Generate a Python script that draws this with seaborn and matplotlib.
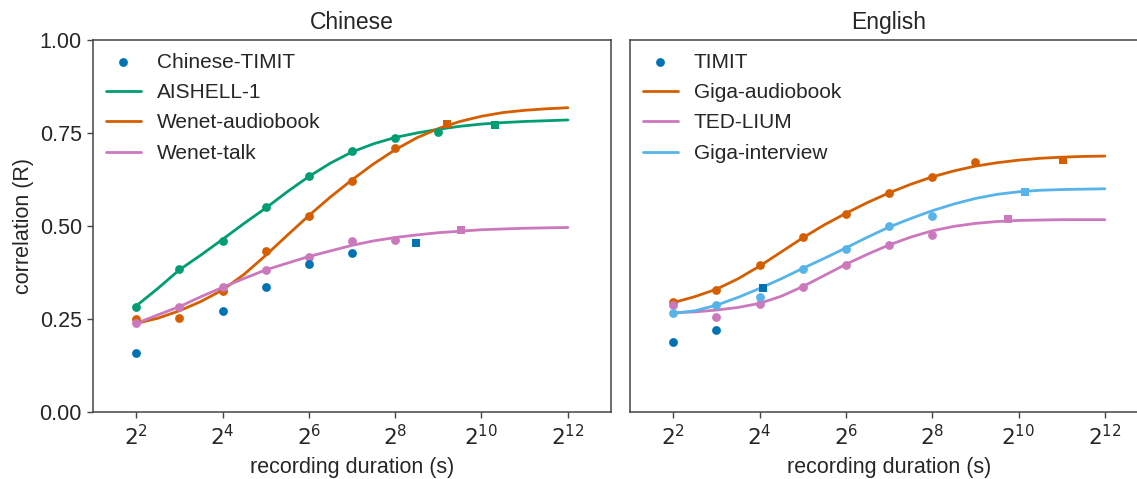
import numpy as np
import matplotlib
matplotlib.use("Agg")
import matplotlib.pyplot as plt
from matplotlib.ticker import FixedLocator, FuncFormatter
import seaborn as sns

sns.set_style("ticks")
plt.rcParams['font.family'] = ['Liberation Sans', 'DejaVu Sans']
plt.rcParams['axes.edgecolor'] = '#444444'
plt.rcParams['axes.linewidth'] = 1.1

pal = sns.color_palette("colorblind")
c_blue, c_green, c_red, c_pink, c_lblue = pal[0], pal[2], pal[3], pal[4], pal[9]

# ---- measured points (x as log2 of duration in s) ----
pt_exp = [2, 3, 4, 5, 6, 7, 8, 9]

# Chinese
ctimit_exp = [2, 4, 5, 6, 7]
ctimit_r = [0.159, 0.272, 0.337, 0.398, 0.428]
ctimit_full = (8.49, 0.454)
aishell_r = [0.283, 0.385, 0.460, 0.550, 0.634, 0.702, 0.737, 0.753]
aishell_full = (10.31, 0.771)
wbook_r = [0.249, 0.252, 0.324, 0.434, 0.527, 0.622, 0.710]
wbook_full = (9.21, 0.774)
wtalk_r = [0.238, 0.281, 0.335, 0.382, 0.418, 0.460, 0.463]
wtalk_full = (9.53, 0.488)

# English
timit_exp = [2, 3]
timit_r = [0.187, 0.220]
timit_full = (4.08, 0.334)
gbook_r = [0.297, 0.329, 0.394, 0.470, 0.532, 0.588, 0.631, 0.673]
gbook_full = (11.04, 0.677)
ted_r = [0.288, 0.256, 0.290, 0.337, 0.396, 0.448, 0.477]
ted_full = (9.75, 0.519)
ginter_r = [0.265, 0.288, 0.310, 0.385, 0.439, 0.501, 0.528]
ginter_full = (10.16, 0.592)

# ---- fitted curves, every half octave ----
curve_exp = [2, 2.5, 3, 3.5, 4, 4.5, 5, 5.5, 6, 6.5, 7,
             7.5, 8, 8.5, 9, 9.5, 10, 10.5, 11, 11.5, 12]
aishell_fit = [0.285, 0.332, 0.382, 0.422, 0.464, 0.507, 0.548, 0.592, 0.633, 0.669, 0.699,
               0.721, 0.738, 0.750, 0.760, 0.768, 0.774, 0.778, 0.781, 0.783, 0.785]
wbook_fit = [0.238, 0.252, 0.272, 0.297, 0.328, 0.370, 0.421, 0.475, 0.528, 0.578, 0.624,
             0.667, 0.705, 0.737, 0.762, 0.781, 0.795, 0.805, 0.811, 0.815, 0.818]
wtalk_fit = [0.238, 0.261, 0.283, 0.310, 0.335, 0.359, 0.382, 0.400, 0.418, 0.433, 0.448,
             0.460, 0.469, 0.476, 0.482, 0.486, 0.490, 0.492, 0.494, 0.495, 0.496]
gbook_fit = [0.294, 0.310, 0.330, 0.358, 0.392, 0.430, 0.468, 0.503, 0.534, 0.563, 0.589,
             0.612, 0.632, 0.648, 0.661, 0.670, 0.677, 0.682, 0.685, 0.687, 0.688]
ted_fit = [0.267, 0.269, 0.274, 0.281, 0.292, 0.311, 0.337, 0.367, 0.397, 0.424, 0.449,
           0.470, 0.487, 0.499, 0.507, 0.512, 0.515, 0.516, 0.517, 0.517, 0.517]
ginter_fit = [0.265, 0.272, 0.287, 0.308, 0.332, 0.358, 0.386, 0.413, 0.441, 0.470, 0.497,
              0.520, 0.541, 0.559, 0.574, 0.585, 0.592, 0.596, 0.598, 0.599, 0.600]

xt_exp = [2, 4, 6, 8, 10, 12]
yt = [0.0, 0.25, 0.5, 0.75, 1.0]

FS = 15.5
MS = 40
LW = 2.0


def p2(e):
    return np.power(2.0, np.asarray(e, dtype=float))


def draw_panel(ax, title, dots, lines):
    # dots: (label, exps, vals, full, color) -> scatter only
    # lines: (label, vals, fit, full, color) -> curve + points
    for label, vals, fit, full, col in lines:
        sns.lineplot(x=p2(curve_exp), y=fit, ax=ax, color=col, lw=LW, label=label, zorder=2)
    for label, vals, fit, full, col in lines:
        sns.scatterplot(x=p2(pt_exp[:len(vals)]), y=vals, ax=ax, color=col, s=MS,
                        linewidth=0, zorder=3, legend=False)
        sns.scatterplot(x=p2([full[0]]), y=[full[1]], ax=ax, color=col, s=MS, marker='s',
                        linewidth=0, zorder=3, legend=False)
    label, exps, vals, full, col = dots
    sns.scatterplot(x=p2(exps), y=vals, ax=ax, color=col, s=MS, linewidth=0,
                    zorder=3, label=label)
    sns.scatterplot(x=p2([full[0]]), y=[full[1]], ax=ax, color=col, s=MS, marker='s',
                    linewidth=0, zorder=3, legend=False)

    ax.set_xscale('log', base=2)
    ax.set_xlim(2, 2 ** 13)
    ax.set_ylim(0, 1)
    ax.xaxis.set_major_locator(FixedLocator(p2(xt_exp)))
    ax.xaxis.set_minor_locator(FixedLocator([]))
    ax.xaxis.set_major_formatter(FuncFormatter(lambda v, p: '$2^{%d}$' % round(np.log2(v))))
    ax.set_yticks(yt)
    ax.yaxis.set_major_formatter(FuncFormatter(lambda v, p: '%.2f' % v))
    ax.tick_params(axis='both', labelsize=FS, direction='out', length=4.5,
                   width=1.0, color='#444444')
    ax.tick_params(axis='x', pad=5)
    ax.set_xlabel('recording duration (s)', fontsize=FS, labelpad=5)
    ax.set_title(title, fontsize=16.5, pad=8)

    h, l = ax.get_legend_handles_labels()
    order = [dots[0]] + [ln[0] for ln in lines]
    hd = dict(zip(l, h))
    ax.legend([hd[k] for k in order], order, loc='upper left', frameon=False,
              fontsize=15, labelspacing=0.55, handlelength=1.7, handletextpad=0.75,
              borderaxespad=0.2)


fig = plt.figure(figsize=(11.37, 4.79), dpi=100)
ax1 = fig.add_axes([93 / 1137, 67 / 479, 518 / 1137, 372 / 479])
ax2 = fig.add_axes([630 / 1137, 67 / 479, 518 / 1137, 372 / 479])

draw_panel(ax1, 'Chinese',
           ('Chinese-TIMIT', ctimit_exp, ctimit_r, ctimit_full, c_blue),
           [('AISHELL-1', aishell_r, aishell_fit, aishell_full, c_green),
            ('Wenet-audiobook', wbook_r, wbook_fit, wbook_full, c_red),
            ('Wenet-talk', wtalk_r, wtalk_fit, wtalk_full, c_pink)])
draw_panel(ax2, 'English',
           ('TIMIT', timit_exp, timit_r, timit_full, c_blue),
           [('Giga-audiobook', gbook_r, gbook_fit, gbook_full, c_red),
            ('TED-LIUM', ted_r, ted_fit, ted_full, c_pink),
            ('Giga-interview', ginter_r, ginter_fit, ginter_full, c_lblue)])

ax1.set_ylabel('correlation (R)', fontsize=FS)
ax2.tick_params(axis='y', left=False, labelleft=False)
ax2.set_ylabel('')

fig.savefig('out.png', dpi=100)
